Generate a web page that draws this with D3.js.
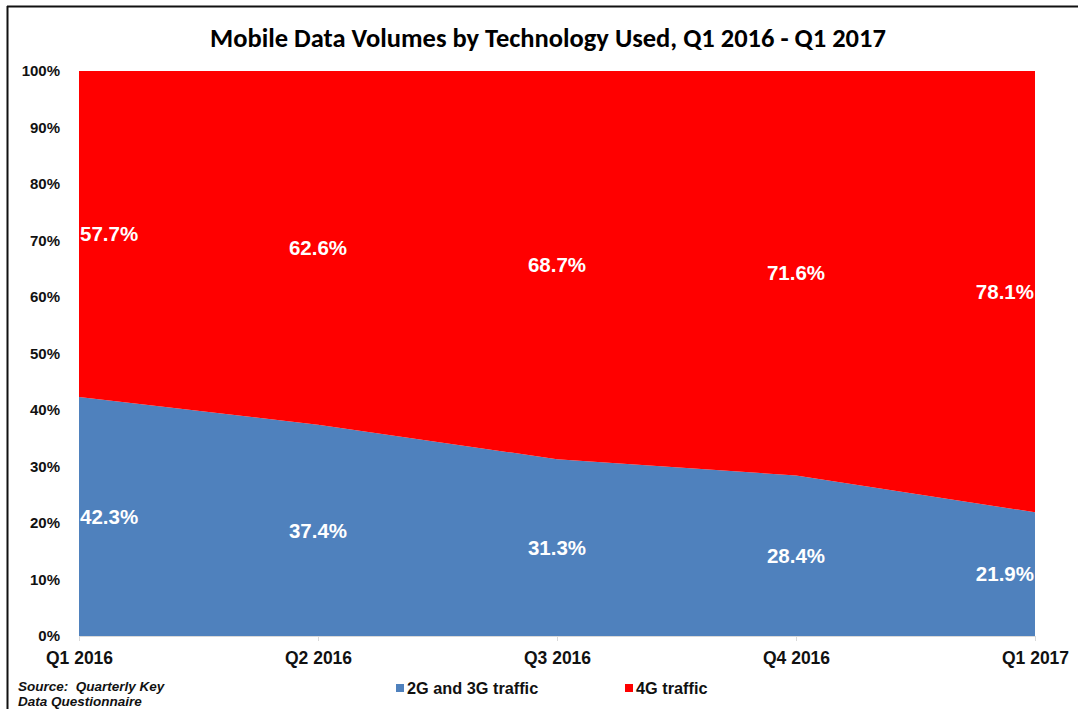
<!DOCTYPE html>
<html>
<head>
<meta charset="utf-8">
<script src="https://cdn.jsdelivr.net/npm/d3@7"></script>
<style>
  html, body { margin: 0; padding: 0; background: #fff; }
  svg { display: block; }
</style>
</head>
<body>
<svg id="chart" width="1078" height="709"></svg>
<script>
// Quarterly share of mobile data volume by technology (percent)
const quarters = ["Q1 2016", "Q2 2016", "Q3 2016", "Q4 2016", "Q1 2017"];
const share2G3G = [42.3, 37.4, 31.3, 28.4, 21.9];
const share4G = [57.7, 62.6, 68.7, 71.6, 78.1];
const yTicks = [0, 10, 20, 30, 40, 50, 60, 70, 80, 90, 100];
const seriesNames = ["2G and 3G traffic", "4G traffic"];
const seriesColors = ["#4F81BD", "#FF0000"];

const svg = d3.select("#chart");
const W = 1078, H = 709;
const margin = { left: 79, right: 43, top: 71, bottom: 73 };
const plotW = W - margin.left - margin.right;
const plotH = H - margin.top - margin.bottom;

// frame lines (top and left)
svg.append("line").attr("x1", 7).attr("x2", W).attr("y1", 6.5).attr("y2", 6.5)
  .attr("stroke", "#111").attr("stroke-width", 2);
svg.append("line").attr("x1", 7.5).attr("x2", 7.5).attr("y1", 6).attr("y2", H)
  .attr("stroke", "#111").attr("stroke-width", 2);

// title
svg.append("text")
  .attr("x", 548).attr("y", 47)
  .attr("text-anchor", "middle")
  .attr("font-family", "Carlito, Lato, 'Open Sans', sans-serif")
  .attr("font-weight", "bold")
  .attr("font-size", 26.5)
  .attr("fill", "#000")
  .text("Mobile Data Volumes by Technology Used, Q1 2016 - Q1 2017");

const g = svg.append("g").attr("transform", `translate(${margin.left},${margin.top})`);

const x = d3.scalePoint().domain(quarters).range([0, plotW]);
const y = d3.scaleLinear().domain([0, 100]).range([plotH, 0]);

const rows = quarters.map((q, i) => ({ q, s0: share2G3G[i], s1: share4G[i] }));
const stack = d3.stack().keys(["s0", "s1"]);
const layers = stack(rows);

const area = d3.area()
  .x(d => x(d.data.q))
  .y0(d => y(d[0]))
  .y1(d => y(d[1]));

g.selectAll("path.layer")
  .data(layers)
  .join("path")
  .attr("class", "layer")
  .attr("d", area)
  .attr("fill", (d, i) => seriesColors[i]);

// y axis labels
const yAxis = g.append("g").call(
  d3.axisLeft(y).tickValues(yTicks).tickFormat(d => d + "%").tickSize(0).tickPadding(19)
);
yAxis.select(".domain").remove();
yAxis.selectAll("text")
  .attr("font-family", "'Liberation Sans', Arial, sans-serif")
  .attr("font-weight", "bold")
  .attr("font-size", 15)
  .attr("fill", "#111");

// x axis
const xAxis = g.append("g").attr("transform", `translate(0,${plotH})`).call(
  d3.axisBottom(x).tickSize(5).tickPadding(11)
);
xAxis.select(".domain").attr("stroke", "#d9d9d9").attr("stroke-width", 1);
xAxis.selectAll(".tick line").attr("stroke", "#d9d9d9");
xAxis.selectAll("text")
  .attr("font-family", "'Liberation Sans', Arial, sans-serif")
  .attr("font-weight", "bold")
  .attr("font-size", 17.5)
  .attr("fill", "#111");

// data labels at the middle of each stacked band
layers.forEach((layer, li) => {
  layer.forEach((d, i) => {
    const value = li === 0 ? share2G3G[i] : share4G[i];
    const n = layer.length;
    const anchor = i === 0 ? "start" : (i === n - 1 ? "end" : "middle");
    const dx = i === 0 ? 1 : (i === n - 1 ? -1 : 0);
    g.append("text")
      .attr("x", x(d.data.q) + dx)
      .attr("y", y((d[0] + d[1]) / 2))
      .attr("dy", "0.35em")
      .attr("text-anchor", anchor)
      .attr("font-family", "'Liberation Sans', Arial, sans-serif")
      .attr("font-weight", "bold")
      .attr("font-size", 20.5)
      .attr("fill", "#fff")
      .text(value.toFixed(1) + "%");
  });
});

// legend
const legendItems = [
  { name: seriesNames[0], color: seriesColors[0], x: 396 },
  { name: seriesNames[1], color: seriesColors[1], x: 625 }
];
const legend = svg.append("g");
legendItems.forEach(it => {
  legend.append("rect")
    .attr("x", it.x).attr("y", 684).attr("width", 8).attr("height", 8)
    .attr("fill", it.color);
  legend.append("text")
    .attr("x", it.x + 11).attr("y", 694)
    .attr("font-family", "'Liberation Sans', Arial, sans-serif")
    .attr("font-weight", "bold")
    .attr("font-size", 16.3)
    .attr("fill", "#111")
    .text(it.name);
});

// source note
const src = svg.append("text")
  .attr("font-family", "'Liberation Sans', Arial, sans-serif")
  .attr("font-weight", "bold")
  .attr("font-style", "italic")
  .attr("font-size", 13.5)
  .attr("fill", "#111")
  .style("white-space", "pre");
src.append("tspan").attr("x", 18).attr("y", 691).text("Source:\u00a0 Quarterly Key");
src.append("tspan").attr("x", 18).attr("y", 706).text("Data Questionnaire");
</script>
</body>
</html>
